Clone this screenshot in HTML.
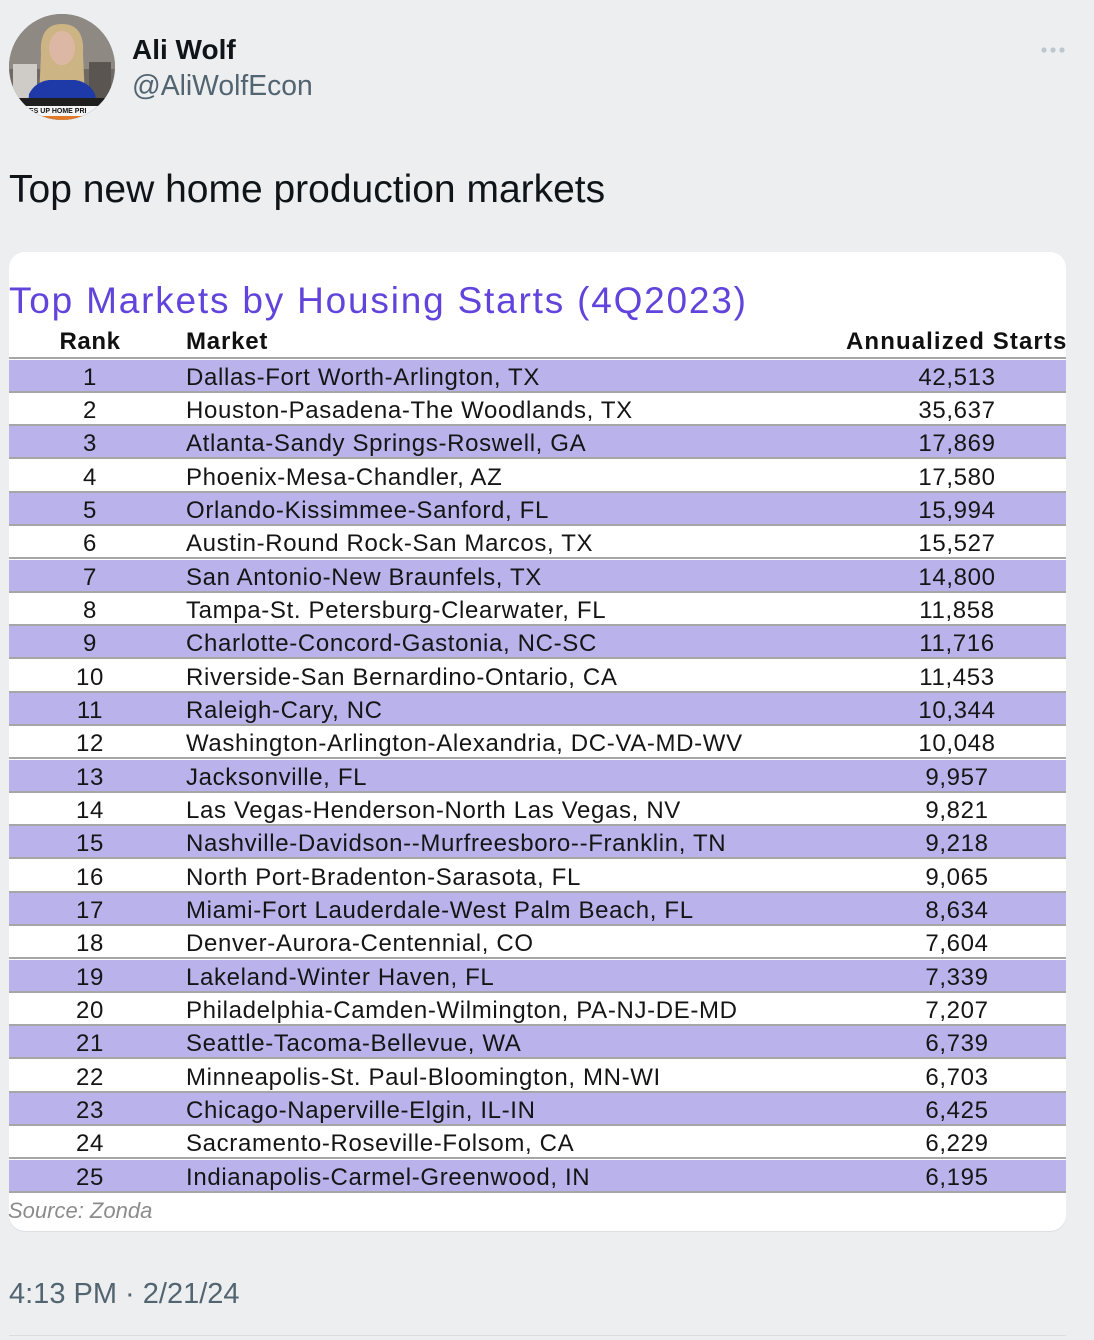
<!DOCTYPE html>
<html><head><meta charset="utf-8">
<style>
html,body{margin:0;padding:0;}
body{width:1094px;height:1340px;background:#eceef0;position:relative;overflow:hidden;font-family:"Liberation Sans",sans-serif;}
.abs{position:absolute;white-space:nowrap;}
.card{position:absolute;left:9px;top:252px;width:1057px;height:979px;background:#fff;border-radius:16px;box-shadow:0 1px 0 #dcdee2;}
.row{position:absolute;left:9px;width:1057px;height:33.333px;box-sizing:border-box;border-bottom:2px solid #a6a6a6;}
.row.p{background:#bab2ea;}
.row span{position:absolute;top:2.2px;line-height:31px;font-size:24px;letter-spacing:0.65px;color:#151515;}
.rk{left:41px;width:80px;text-align:center;}
.mk{left:177px;}
.st{left:888px;width:120px;text-align:center;}
</style></head><body>

<!-- avatar -->
<svg class="abs" style="left:9px;top:14px" width="106" height="106" viewBox="0 0 106 106">
<defs><clipPath id="c"><circle cx="53" cy="53" r="53"/></clipPath></defs>
<g clip-path="url(#c)">
<rect width="106" height="106" fill="#6f6a66"/>
<rect x="0" y="0" width="106" height="55" fill="#8e8983"/>
<rect x="4" y="50" width="24" height="38" fill="#cfccc8"/>
<rect x="80" y="48" width="22" height="40" fill="#5a5550"/>
<path d="M32 40 Q30 10 53 10 Q76 10 74 40 L76 84 L30 84 Z" fill="#cdb484"/>
<ellipse cx="53" cy="34" rx="13" ry="17" fill="#dcb8a4"/>
<path d="M18 106 L20 80 Q26 68 40 66 L66 66 Q80 68 86 80 L90 106 Z" fill="#1d3aa8"/>
<rect x="0" y="84" width="106" height="8" fill="#1f1f1f"/>
<rect x="0" y="92" width="106" height="14" fill="#f4f4f4"/>
<text x="20" y="99" font-family="Liberation Sans, sans-serif" font-size="7" font-weight="bold" fill="#111">ES UP HOME PRI</text>
<rect x="20" y="102" width="70" height="4" fill="#e07a2a"/>
</g>
</svg>

<div class="abs" style="left:132px;top:36.3px;font-size:28px;line-height:28px;font-weight:bold;color:#0f1419;">Ali Wolf</div>
<div class="abs" style="left:132px;top:71.3px;font-size:28.3px;line-height:28px;color:#536471;">@AliWolfEcon</div>

<svg class="abs" style="left:1036px;top:44px" width="34" height="12">
<circle cx="8" cy="6" r="2.6" fill="#bcc7cf"/><circle cx="17" cy="6" r="2.6" fill="#bcc7cf"/><circle cx="26" cy="6" r="2.6" fill="#bcc7cf"/>
</svg>

<div class="abs" style="left:9px;top:170px;font-size:39px;line-height:39px;color:#0f1419;">Top new home production markets</div>

<div class="card"></div>

<div class="abs" style="left:9px;top:281.8px;font-size:37px;line-height:37px;letter-spacing:1.8px;color:#6244dc;">Top Markets by Housing Starts (4Q2023)</div>

<div class="abs" style="left:9px;top:326px;width:1057px;height:33px;box-sizing:border-box;border-bottom:2px solid #a6a6a6;"></div>
<div class="abs" style="left:50px;width:80px;text-align:center;top:330.2px;font-size:24px;line-height:24px;font-weight:bold;letter-spacing:0.6px;color:#111;">Rank</div>
<div class="abs" style="left:186px;top:330.2px;font-size:24px;line-height:24px;font-weight:bold;letter-spacing:0.8px;color:#111;">Market</div>
<div class="abs" style="left:846px;top:330.2px;font-size:24px;line-height:24px;font-weight:bold;letter-spacing:1.1px;color:#111;">Annualized Starts</div>

<div class="row p" style="top:359.5px"><span class="rk">1</span><span class="mk">Dallas-Fort Worth-Arlington, TX</span><span class="st">42,513</span></div>
<div class="row" style="top:392.83px"><span class="rk">2</span><span class="mk">Houston-Pasadena-The Woodlands, TX</span><span class="st">35,637</span></div>
<div class="row p" style="top:426.17px"><span class="rk">3</span><span class="mk">Atlanta-Sandy Springs-Roswell, GA</span><span class="st">17,869</span></div>
<div class="row" style="top:459.5px"><span class="rk">4</span><span class="mk">Phoenix-Mesa-Chandler, AZ</span><span class="st">17,580</span></div>
<div class="row p" style="top:492.83px"><span class="rk">5</span><span class="mk">Orlando-Kissimmee-Sanford, FL</span><span class="st">15,994</span></div>
<div class="row" style="top:526.17px"><span class="rk">6</span><span class="mk">Austin-Round Rock-San Marcos, TX</span><span class="st">15,527</span></div>
<div class="row p" style="top:559.5px"><span class="rk">7</span><span class="mk">San Antonio-New Braunfels, TX</span><span class="st">14,800</span></div>
<div class="row" style="top:592.83px"><span class="rk">8</span><span class="mk">Tampa-St. Petersburg-Clearwater, FL</span><span class="st">11,858</span></div>
<div class="row p" style="top:626.17px"><span class="rk">9</span><span class="mk">Charlotte-Concord-Gastonia, NC-SC</span><span class="st">11,716</span></div>
<div class="row" style="top:659.5px"><span class="rk">10</span><span class="mk">Riverside-San Bernardino-Ontario, CA</span><span class="st">11,453</span></div>
<div class="row p" style="top:692.83px"><span class="rk">11</span><span class="mk">Raleigh-Cary, NC</span><span class="st">10,344</span></div>
<div class="row" style="top:726.17px"><span class="rk">12</span><span class="mk">Washington-Arlington-Alexandria, DC-VA-MD-WV</span><span class="st">10,048</span></div>
<div class="row p" style="top:759.5px"><span class="rk">13</span><span class="mk">Jacksonville, FL</span><span class="st">9,957</span></div>
<div class="row" style="top:792.83px"><span class="rk">14</span><span class="mk">Las Vegas-Henderson-North Las Vegas, NV</span><span class="st">9,821</span></div>
<div class="row p" style="top:826.17px"><span class="rk">15</span><span class="mk">Nashville-Davidson--Murfreesboro--Franklin, TN</span><span class="st">9,218</span></div>
<div class="row" style="top:859.5px"><span class="rk">16</span><span class="mk">North Port-Bradenton-Sarasota, FL</span><span class="st">9,065</span></div>
<div class="row p" style="top:892.83px"><span class="rk">17</span><span class="mk">Miami-Fort Lauderdale-West Palm Beach, FL</span><span class="st">8,634</span></div>
<div class="row" style="top:926.17px"><span class="rk">18</span><span class="mk">Denver-Aurora-Centennial, CO</span><span class="st">7,604</span></div>
<div class="row p" style="top:959.5px"><span class="rk">19</span><span class="mk">Lakeland-Winter Haven, FL</span><span class="st">7,339</span></div>
<div class="row" style="top:992.83px"><span class="rk">20</span><span class="mk">Philadelphia-Camden-Wilmington, PA-NJ-DE-MD</span><span class="st">7,207</span></div>
<div class="row p" style="top:1026.17px"><span class="rk">21</span><span class="mk">Seattle-Tacoma-Bellevue, WA</span><span class="st">6,739</span></div>
<div class="row" style="top:1059.5px"><span class="rk">22</span><span class="mk">Minneapolis-St. Paul-Bloomington, MN-WI</span><span class="st">6,703</span></div>
<div class="row p" style="top:1092.83px"><span class="rk">23</span><span class="mk">Chicago-Naperville-Elgin, IL-IN</span><span class="st">6,425</span></div>
<div class="row" style="top:1126.17px"><span class="rk">24</span><span class="mk">Sacramento-Roseville-Folsom, CA</span><span class="st">6,229</span></div>
<div class="row p" style="top:1159.5px"><span class="rk">25</span><span class="mk">Indianapolis-Carmel-Greenwood, IN</span><span class="st">6,195</span></div>

<div class="abs" style="left:8px;top:1200.4px;font-size:22px;line-height:22px;font-style:italic;color:#8c8c8c;">Source: Zonda</div>

<div class="abs" style="left:9px;top:1279.5px;font-size:29px;line-height:29px;color:#536471;">4:13 PM · 2/21/24</div>

<div class="abs" style="left:9px;top:1335px;width:1057px;height:1px;background:#d9dce0;"></div>
</body></html>
